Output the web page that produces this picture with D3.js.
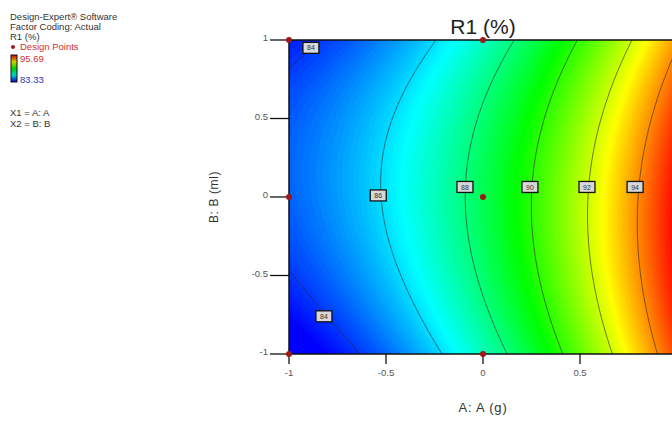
<!DOCTYPE html>
<html>
<head>
<meta charset="utf-8">
<script src="https://cdn.jsdelivr.net/npm/d3@7"></script>
<style>
  body { margin: 0; background: #fff; }
  text { font-family: "Liberation Sans", Arial, sans-serif; }
</style>
</head>
<body>
<div id="chart"></div>
<script>
var svgWidth = 672;
var svgHeight = 421;

// fitted quadratic model R1 = f(A, B), coded units
var terms = ["Intercept", "A", "B", "AB", "A^2", "B^2"];
var coef = [88.5, 5.6, -0.04, -0.5, 1.6, -1.32];

var levels = [84, 86, 88, 90, 92, 94];
var rangeLow = 83.33;
var rangeHigh = 95.69;

var axisTicks = [-1, -0.5, 0, 0.5, 1];
var tickLabels = ["-1", "-0.5", "0", "0.5", "1"];

// contour labels (level, A, B)
var labelLevels = [84, 86, 88, 90, 92, 94, 84];
var labelA = [-0.887, -0.54, -0.093, 0.242, 0.536, 0.784, -0.82];
var labelB = [0.95, 0.01, 0.064, 0.064, 0.064, 0.064, -0.76];

// design points
var pointA = [-1, 0, 1, -1, 0, 1, -1, 0, 1];
var pointB = [1, 1, 1, 0, 0, 0, -1, -1, -1];

var legendLines = ["Design-Expert\u00ae Software", "Factor Coding: Actual", "R1 (%)"];

var plot = { left: 289, top: 40, right: 677, bottom: 354 };

var svg = d3.select("#chart")
    .append("svg")
    .attr("width", svgWidth)
    .attr("height", svgHeight);

var x = d3.scaleLinear().domain([-1, 1]).range([plot.left, plot.right]);
var y = d3.scaleLinear().domain([-1, 1]).range([plot.bottom, plot.top]);

var step = (rangeHigh - rangeLow) / 4;
var color = d3.scaleLinear()
    .domain([rangeLow, rangeLow + step, rangeLow + 2 * step, rangeLow + 3 * step, rangeHigh])
    .range(["#0000ff", "#00ffff", "#00ff00", "#ffff00", "#ff0000"])
    .clamp(true);

function model(a, b) {
    return coef[0] + coef[1] * a + coef[2] * b + coef[3] * a * b + coef[4] * a * a + coef[5] * b * b;
}

// grid slightly larger than the plot so the boundary edges are clipped away
var nx = 240, ny = 190;
var a0 = -1.06, a1 = 1.06, b0 = -1.06, b1 = 1.06;
var grid = new Array(nx * ny);
for (var j = 0; j < ny; j++) {
    for (var i = 0; i < nx; i++) {
        var a = a0 + (a1 - a0) * i / (nx - 1);
        var b = b1 - (b1 - b0) * j / (ny - 1);
        grid[j * nx + i] = model(a, b);
    }
}

var proj = d3.geoTransform({
    point: function(px, py) {
        var a = a0 + (a1 - a0) * (px - 0.5) / (nx - 1);
        var b = b1 - (b1 - b0) * (py - 0.5) / (ny - 1);
        this.stream.point(x(a), y(b));
    }
});
var path = d3.geoPath(proj);

svg.append("clipPath").attr("id", "clip")
    .append("rect")
    .attr("x", plot.left).attr("y", plot.top)
    .attr("width", plot.right - plot.left).attr("height", plot.bottom - plot.top);

var fillThresholds = d3.range(80, 97, 0.1);
var bands = d3.contours().size([nx, ny]).thresholds(fillThresholds)(grid);

var surface = svg.append("g").attr("clip-path", "url(#clip)");
surface.append("rect")
    .attr("x", plot.left).attr("y", plot.top)
    .attr("width", plot.right - plot.left).attr("height", plot.bottom - plot.top)
    .attr("fill", color(80));
surface.selectAll("path.band")
    .data(bands)
    .enter()
    .append("path")
    .attr("class", "band")
    .attr("d", path)
    .attr("fill", d => color(d.value + 0.05))
    .attr("stroke", d => color(d.value + 0.05))
    .attr("stroke-width", 0.6);

var lines = d3.contours().size([nx, ny]).thresholds(levels)(grid);
surface.selectAll("path.level")
    .data(lines)
    .enter()
    .append("path")
    .attr("class", "level")
    .attr("d", path)
    .attr("fill", "none")
    .attr("stroke", "#2a2a2a")
    .attr("stroke-opacity", 0.8)
    .attr("stroke-width", 0.8);

// contour labels
var lab = surface.selectAll("g.lab")
    .data(labelLevels)
    .enter()
    .append("g")
    .attr("class", "lab")
    .attr("transform", (d, i) => `translate(${x(labelA[i])}, ${y(labelB[i])})`);
lab.append("rect")
    .attr("x", -8).attr("y", -5.5)
    .attr("width", 16).attr("height", 11)
    .attr("fill", "#d8d8d8")
    .attr("stroke", "#111")
    .attr("stroke-width", 1.3);
lab.append("text")
    .attr("text-anchor", "middle")
    .attr("dy", 2.6)
    .attr("font-size", "7px")
    .attr("fill", "#333")
    .text(d => d);

// frame
svg.append("path")
    .attr("d", `M${plot.right},${plot.top}H${plot.left}V${plot.bottom}H${plot.right}`)
    .attr("fill", "none")
    .attr("stroke", "#111")
    .attr("stroke-width", 1.5);

// axes (labels beyond the window edge are not drawn, as in the cropped original)
var xAxis = svg.append("g");
xAxis.selectAll("line")
    .data(axisTicks)
    .enter()
    .append("line")
    .attr("x1", d => x(d)).attr("x2", d => x(d))
    .attr("y1", plot.bottom).attr("y2", plot.bottom + 10)
    .attr("stroke", "#111").attr("stroke-width", 1.3);
xAxis.selectAll("text")
    .data(axisTicks.filter(d => x(d) < svgWidth - 6))
    .enter()
    .append("text")
    .attr("x", d => x(d))
    .attr("y", plot.bottom + 22)
    .attr("text-anchor", "middle")
    .attr("font-size", "9.5px")
    .attr("fill", "#555")
    .text(d => tickLabels[axisTicks.indexOf(d)]);

var yAxis = svg.append("g");
yAxis.selectAll("line")
    .data(axisTicks)
    .enter()
    .append("line")
    .attr("x1", plot.left - 19).attr("x2", plot.left)
    .attr("y1", d => y(d)).attr("y2", d => y(d))
    .attr("stroke", "#111").attr("stroke-width", 1.3);
yAxis.selectAll("text")
    .data(axisTicks)
    .enter()
    .append("text")
    .attr("x", plot.left - 21)
    .attr("y", d => y(d))
    .attr("dy", "0.15em")
    .attr("text-anchor", "end")
    .attr("font-size", "9.5px")
    .attr("fill", "#555")
    .text((d, i) => tickLabels[i]);

// design points
svg.selectAll("circle.pt")
    .data(pointA)
    .enter()
    .append("circle")
    .attr("class", "pt")
    .attr("cx", (d, i) => x(d))
    .attr("cy", (d, i) => y(pointB[i]))
    .attr("r", 3)
    .attr("fill", "#a01818");

// titles
svg.append("text")
    .attr("x", x(0)).attr("y", 34)
    .attr("text-anchor", "middle")
    .attr("font-size", "21px")
    .attr("fill", "#222")
    .text("R1 (%)");

svg.append("text")
    .attr("x", x(0)).attr("y", 412)
    .attr("text-anchor", "middle")
    .attr("font-size", "13px")
    .attr("letter-spacing", "0.8px")
    .attr("fill", "#333")
    .text("A: A (g)");

svg.append("text")
    .attr("transform", `translate(218, ${y(0)}) rotate(-90)`)
    .attr("text-anchor", "middle")
    .attr("font-size", "12px")
    .attr("letter-spacing", "0.6px")
    .attr("fill", "#333")
    .text("B: B (ml)");

// legend
var legend = svg.append("g").attr("font-size", "9.5px");
legend.selectAll("text.hdr")
    .data(legendLines)
    .enter()
    .append("text")
    .attr("class", "hdr")
    .attr("x", 10)
    .attr("y", (d, i) => 20 + i * 10)
    .attr("fill", "#333")
    .text(d => d);
legend.append("circle")
    .attr("cx", 13).attr("cy", 47).attr("r", 2).attr("fill", "#a01818");
legend.append("text")
    .attr("x", 20).attr("y", 50)
    .attr("fill", "#d03030")
    .text("Design Points");

var grad = svg.append("defs").append("linearGradient")
    .attr("id", "bar").attr("x1", 0).attr("y1", 1).attr("x2", 0).attr("y2", 0);
grad.selectAll("stop")
    .data(color.domain())
    .enter()
    .append("stop")
    .attr("offset", (d, i) => i / 4)
    .attr("stop-color", d => d3.color(color(d)).darker(0.6));
legend.append("rect")
    .attr("x", 11).attr("y", 55).attr("width", 6).attr("height", 27)
    .attr("fill", "url(#bar)")
    .attr("stroke", "#111").attr("stroke-width", 1);
legend.append("text")
    .attr("x", 20).attr("y", 62)
    .attr("fill", "#d03030")
    .text(rangeHigh.toFixed(2));
legend.append("text")
    .attr("x", 20).attr("y", 83)
    .attr("fill", "#3030c0")
    .text(rangeLow.toFixed(2));
legend.append("text")
    .attr("x", 10).attr("y", 116)
    .attr("fill", "#333")
    .text("X1 = A: A");
legend.append("text")
    .attr("x", 10).attr("y", 127)
    .attr("fill", "#333")
    .text("X2 = B: B");
</script>
</body>
</html>
